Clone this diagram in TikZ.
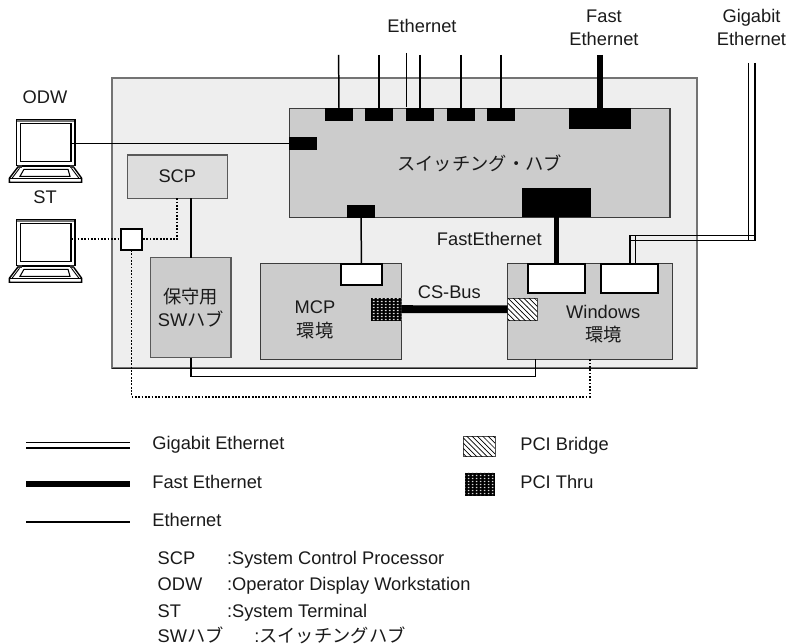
\documentclass[tikz,border=0pt]{standalone}
\usepackage{fontspec}
\usepackage{xcolor}
\usetikzlibrary{patterns}
\setmainfont{Liberation Sans}
\newfontfamily\jpfont{Noto Sans CJK JP}
\newcommand{\jp}[1]{{\jpfont #1}}
\definecolor{Ink}{HTML}{1A1A1A}
\definecolor{Panel}{HTML}{EEEEEE}
\definecolor{Unit}{HTML}{CCCCCC}
\definecolor{UnitLight}{HTML}{DDDDDD}
\pgfdeclarepatternformonly{thrugrid}{\pgfqpoint{0pt}{0pt}}{\pgfqpoint{2pt}{1.9pt}}{\pgfqpoint{2pt}{1.9pt}}{%
  \pgfpathrectangle{\pgfqpoint{0.5pt}{0.6pt}}{\pgfqpoint{1.1pt}{0.8pt}}\pgfusepath{fill}}
\tikzset{
  textlabel/.style={inner sep=0pt,text=Ink,align=center,font=\fontsize{10.4}{13.3}\selectfont},
  baselabel/.style={textlabel,anchor=base},
  leftlabel/.style={textlabel,anchor=base west},
  unitbox/.style={draw=Ink!85,fill=Unit,line width=0.8pt,inner sep=0pt,outer sep=0pt,textlabel},
  blackport/.style={fill=black,inner sep=0pt,outer sep=0pt,minimum width=0.56cm,minimum height=0.26cm},
  whiteport/.style={draw=black,fill=white,line width=1.1pt,inner sep=0pt,outer sep=0pt},
  bridgebox/.style={draw=black!70,line width=0.4pt,fill=white,inner sep=0pt,outer sep=0pt,postaction={pattern=north west lines}},
  thrubox/.style={fill=black,inner sep=0pt,outer sep=0pt,postaction={pattern=thrugrid,pattern color=white!85!black}},
  ethline/.style={black,line width=0.85pt},
  fastline/.style={black,line width=2.9pt},
  gigaline/.style={black,line width=0.9pt},
  maintline/.style={black,line width=1.1pt,dash pattern=on 1pt off 0.9pt},
  laptop/.pic={
    \fill[black!55] (16.5,0) rectangle (75,2.5);
    \draw[black,line width=0.8pt] (16.5,0) rectangle (75,46);
    \node[draw=black,fill=white,line width=0.8pt,inner sep=0pt,outer sep=0pt,minimum width=1.014cm,minimum height=0.76cm] (-screen) at (45.65,23.3) {};
    \draw[black,line width=0.8pt,fill=white] (9.3,63) -- (81.7,63) -- (81.7,59) -- (73,47) -- (18.5,47) -- (9.3,59) -- cycle;
    \draw[black,line width=0.6pt] (9.3,59) -- (81.7,59);
    \draw[black,line width=0.6pt] (24,50) -- (68,50) -- (70,57) -- (20,57) -- cycle;
    \draw[black,line width=0.5pt] (12,59) -- (19.5,49);
    \draw[black,line width=0.5pt] (79,59) -- (71.5,49);
    \fill[black!80] (17.5,45.5) rectangle (21.5,49);
    \fill[black!80] (69.5,45.5) rectangle (73.5,49);
  }
}
\begin{document}
\begin{tikzpicture}[x=0.02cm,y=-0.02cm]
\useasboundingbox (0,0) rectangle (789,644);
% chassis and units
\node[draw=black!55,fill=Panel,line width=0.8pt,inner sep=0pt,outer sep=0pt,minimum width=11.70cm,minimum height=5.80cm] (chassis) at (404.5,223) {};
\draw[Ink,line width=0.5pt] (chassis.south west) -- (chassis.south east);
\node[unitbox,minimum width=7.616cm,minimum height=2.176cm] (hub) at (479.6,162.9) {};
\node[textlabel] (hublabel) at (479.6,163) {\jp{スイッチング・ハブ}};
\node[unitbox,draw=black!65,fill=UnitLight,minimum width=2.0cm,minimum height=0.866cm] (scp) at (177.3,176.7) {SCP};
\node[unitbox,draw=black!65,minimum width=1.606cm,minimum height=2.0cm] (swhub) at (190.85,307.7) {\jp{保守用}\\SW\jp{ハブ}};
\node[unitbox,minimum width=2.82cm,minimum height=1.912cm] (mcp) at (330.8,311.5) {};
\node[unitbox,minimum width=3.292cm,minimum height=1.912cm] (win) at (590,311.5) {};
\node[textlabel] (mcplabel) at (315,320) {MCP\\\jp{環境}};
\node[textlabel] (winlabel) at (603.3,324) {Windows\\\jp{環境}};
% hub ports
\node[blackport] (ethport1) at (339,114.7) {};
\node[blackport] (ethport2) at (379,114.7) {};
\node[blackport] (ethport3) at (420,114.7) {};
\node[blackport] (ethport4) at (461.1,114.7) {};
\node[blackport] (ethport5) at (501,114.7) {};
\node[blackport,minimum width=1.238cm,minimum height=0.404cm] (fastport) at (600,118.6) {};
\node[blackport] (odwport) at (303.1,143.5) {};
\node[blackport] (mcpuplink) at (361,211.2) {};
\node[blackport,minimum width=1.38cm,minimum height=0.586cm] (winuplink) at (556.5,202.6) {};
% unit ports
\node[whiteport,minimum width=0.832cm,minimum height=0.42cm] (mcpport) at (361.5,274.2) {};
\node[whiteport,minimum width=1.152cm,minimum height=0.592cm] (winporta) at (556.5,278.5) {};
\node[whiteport,minimum width=1.152cm,minimum height=0.592cm] (winportb) at (629.5,278.5) {};
\node[whiteport,minimum width=0.432cm,minimum height=0.426cm] (junction) at (131.5,239.3) {};
\node[thrubox,minimum width=0.60cm,minimum height=0.46cm] (thru) at (386.3,309.2) {};
\node[bridgebox,minimum width=0.592cm,minimum height=0.44cm] (bridge) at (522.5,309.3) {};
% terminals
\pic (odw) at (0,119.3) {laptop};
\pic (st) at (0,219.3) {laptop};
\node[baselabel] (odwlabel) at (45,103.3) {ODW};
\node[baselabel] (stlabel) at (45,204) {ST};
% free ends
\coordinate (eth1) at (338.6,55);
\coordinate (eth2) at (379,55);
\coordinate (eth3) at (420,55);
\coordinate (eth4) at (461.1,55);
\coordinate (eth5) at (501,55);
\coordinate (ethtop) at (406.5,53);
\coordinate (ethend) at (406.5,107);
\coordinate (fast) at (600,55);
\coordinate (gigaa) at (748.3,63);
\coordinate (gigab) at (754.8,63);
\coordinate (gigaup) at (630,235.6);
\coordinate (gigalow) at (630,240.3);
\coordinate (gigaport) at (635.5,263.7);
\coordinate (winsw) at (535.7,359.3);
\coordinate (dotturn) at (590,396.7);
% connectors
\draw[ethline] (eth1) -- (ethport1.north);
\draw[ethline] (eth2) -- (ethport2.north);
\draw[ethline] (eth3) -- (ethport3.north);
\draw[ethline] (eth4) -- (ethport4.north);
\draw[ethline] (eth5) -- (ethport5.north);
\draw[black,line width=0.45pt] (ethtop) -- (ethend);
\draw[fastline] (fast) -- (fastport.north);
\draw[ethline] (odw-screen.east |- odwport.west) -- (odwport.west);
\draw[ethline] (mcpuplink.south) -- (mcpport.north);
\draw[fastline] (winuplink.south) -- (winporta.north);
\draw[ethline] (swhub.north |- scp.south) -- (swhub.north);
\draw[ethline] (swhub.south) -- ++(0,19) -| (winsw);
\draw[maintline] (st-screen.east |- junction.west) -- (junction.west);
\draw[maintline] (scp.south) |- (junction.east);
\draw[maintline] (junction.south) |- (dotturn) -- (win.south);
\draw[black,line width=4.5pt] (thru.east) -- (bridge.west);
\draw[gigaline] (gigaa) -- (gigaa |- gigalow);
\draw[gigaline] (gigab) -- (gigab |- gigalow) -- (gigalow);
\draw[gigaline] (gigab |- gigaup) -- (gigaup) -- (gigaup |- gigaport);
\draw[gigaline] (gigalow) -- (gigaport -| gigalow);
\draw[gigaline] (gigaport) -- (gigaport |- gigaup);
% labels
\node[baselabel] (ethlabel) at (422,32.7) {Ethernet};
\node[baselabel] (fastlabel) at (604,46) {Fast\\Ethernet};
\node[baselabel] (gigalabel) at (751.5,46) {Gigabit\\Ethernet};
\node[baselabel] (fastethlabel) at (489.3,246) {FastEthernet};
\node[baselabel] (csbuslabel) at (449.3,299) {CS-Bus};
% legend
\coordinate (keygigaa) at (26,445.3);
\coordinate (keygigab) at (130,445.3);
\coordinate (keyfasta) at (26,483.7);
\coordinate (keyfastb) at (130,483.7);
\coordinate (keyetha) at (26,522);
\coordinate (keyethb) at (130,522);
\draw[black,line width=0.9pt,double=white,double distance=2.3pt] (keygigaa) -- (keygigab);
\draw[black,line width=3.4pt] (keyfasta) -- (keyfastb);
\draw[ethline] (keyetha) -- (keyethb);
\node[leftlabel] (keygigalabel) at (152,450) {Gigabit Ethernet};
\node[leftlabel] (keyfastlabel) at (152,489) {Fast Ethernet};
\node[leftlabel] (keyethlabel) at (152,527) {Ethernet};
\node[bridgebox,minimum width=0.63cm,minimum height=0.40cm] (keybridge) at (479.2,446.7) {};
\node[thrubox,minimum width=0.60cm,minimum height=0.466cm] (keythru) at (480,484.3) {};
\node[leftlabel] (keybridgelabel) at (520,451) {PCI Bridge};
\node[leftlabel] (keythrulabel) at (520,489) {PCI Thru};
\node[leftlabel] (termscp) at (157.3,564.3) {SCP};
\node[leftlabel] (termodw) at (157.3,591) {ODW};
\node[leftlabel] (termst) at (157.3,617.3) {ST};
\node[leftlabel] (termsw) at (157.3,642.7) {SW\jp{ハブ}};
\node[leftlabel] (defscp) at (226.7,564.3) {:System Control Processor};
\node[leftlabel] (defodw) at (226.7,591) {:Operator Display Workstation};
\node[leftlabel] (defst) at (226.7,617.3) {:System Terminal};
\node[leftlabel] (defsw) at (254,642.7) {:\jp{スイッチングハブ}};
\end{tikzpicture}
\end{document}
